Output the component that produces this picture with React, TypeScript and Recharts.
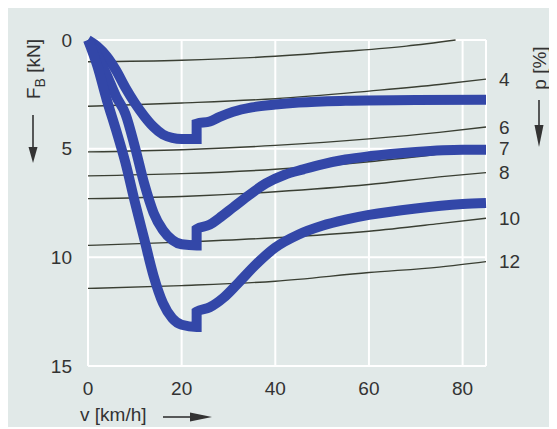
import React from 'react';
import { LineChart, Line, XAxis, YAxis, CartesianGrid, ReferenceLine } from 'recharts';

// Fahrgeschwindigkeit-Achse
const speedTicks = [0, 20, 40, 60, 80];
const forceTicks = [0, 5, 10, 15];

// Steigungslinien p [%] (dünn), Stützstellen v [km/h]
const gradeSpeeds = [0, 20, 40, 60, 75, 85];
const grade4 = [3.05, 2.9, 2.7, 2.35, 2.05, 1.8];
const grade6 = [5.15, 5.05, 4.85, 4.55, 4.25, 4.0];
const grade7 = [6.25, 6.15, 5.95, 5.6, 5.25, 5.0];
const grade8 = [7.3, 7.2, 6.98, 6.65, 6.3, 6.1];
const grade10 = [9.45, 9.3, 9.1, 8.8, 8.45, 8.2];
const grade12 = [11.43, 11.3, 11.1, 10.7, 10.45, 10.2];

// oberste Linie ohne Beschriftung, läuft oben aus dem Diagramm
const topSpeeds = [0, 20, 40, 55, 68, 78.5];
const topGrade = [1.0, 0.93, 0.75, 0.52, 0.28, 0.0];

// Bremskraftkurven (dick), [v, F_B]
const brakeLow: [number, number][] = [
  [0, 0], [2, 0.3], [4, 0.75], [6, 1.4], [8, 2.2], [10, 2.9], [12, 3.5], [14, 4.0],
  [16, 4.35], [18, 4.5], [20, 4.55], [23.2, 4.55], [23.2, 3.85], [26, 3.75], [28, 3.55],
  [31, 3.3], [35, 3.1], [40, 2.97], [45, 2.88], [55, 2.8], [70, 2.76], [85, 2.75],
];
const brakeMid: [number, number][] = [
  [0, 0], [2, 0.7], [4, 1.6], [6, 2.6], [8, 3.4], [10, 4.9], [12, 6.6], [14, 7.95],
  [16, 8.75], [18, 9.2], [20, 9.4], [23.2, 9.45], [23.2, 8.7], [26, 8.5], [28, 8.2],
  [31, 7.7], [34, 7.2], [38, 6.6], [42, 6.2], [46, 5.95], [50, 5.72], [55, 5.5],
  [60, 5.35], [70, 5.15], [80, 5.05], [85, 5.05],
];
const brakeHigh: [number, number][] = [
  [0, 0], [2, 1.2], [4, 2.75], [6, 4.15], [8, 5.65], [10, 7.45], [12, 9.15], [14, 10.85],
  [16, 12.1], [18, 12.8], [20, 13.1], [23.2, 13.2], [23.2, 12.5], [26, 12.3], [29, 11.85],
  [32, 11.2], [36, 10.3], [40, 9.55], [45, 8.95], [50, 8.55], [55, 8.27],
  [60, 8.05], [70, 7.75], [80, 7.55], [85, 7.5],
];

const BG = '#e1e9e8';
const BLUE = '#3347a8';
const THIN = '#3a3f33';
const TEXT = '#333';
const FONT = 19;

const toPoints = (speeds: number[], values: number[]) => speeds.map((v, i) => ({ v, F: values[i] }));
const pairs = (list: [number, number][]) => list.map(([v, F]) => ({ v, F }));

const gradeLines = [
  { p: '4', values: grade4 },
  { p: '6', values: grade6 },
  { p: '7', values: grade7 },
  { p: '8', values: grade8 },
  { p: '10', values: grade10 },
  { p: '12', values: grade12 },
];

// Beschriftung am Linienende
const endLabel = (text: string, last: number) => (props: any) => {
  if (props.index !== last) return null;
  return (
    <text x={props.x + 13} y={props.y} dy="0.35em" fontSize={FONT} fill={TEXT} textAnchor="start">
      {text}
    </text>
  );
};

const LeftTitle = () => (
  <g>
    <text x={32} y={61} transform="rotate(-90 32 61)" textAnchor="middle" fontSize={FONT} fill={TEXT}>
      F<tspan fontSize={14} dy={5}>B</tspan>
      <tspan dy={-5}> [kN]</tspan>
    </text>
    <line x1={25} y1={107} x2={25} y2={141} stroke={TEXT} strokeWidth={1.6} />
    <polygon points="20.5,139 29.5,139 25,155" fill={TEXT} />
  </g>
);

const RightTitle = () => (
  <g>
    <text x={538} y={60} transform="rotate(-90 538 60)" textAnchor="middle" fontSize={FONT} fill={TEXT}>
      p [%]
    </text>
    <line x1={531} y1={92} x2={531} y2={119} stroke={TEXT} strokeWidth={1.6} />
    <polygon points="526.5,117 535.5,117 531,139" fill={TEXT} />
  </g>
);

const BottomTitle = () => (
  <g>
    <text x={72} y={413} textAnchor="start" fontSize={FONT} fill={TEXT}>
      v [km/h]
    </text>
    <line x1={155} y1={409} x2={184} y2={409} stroke={TEXT} strokeWidth={1.6} />
    <polygon points="182,404.5 182,413.5 204,409" fill={TEXT} />
  </g>
);

export default function App() {
  return (
    <div style={{ width: 549, height: 419, background: BG, fontFamily: '"Liberation Sans", Arial, sans-serif' }}>
      <LineChart width={549} height={419} margin={{ top: 32, right: 0, left: 20, bottom: 31 }}>
        <CartesianGrid stroke="#ffffff" strokeWidth={2} />
        <XAxis
          type="number"
          dataKey="v"
          domain={[0, 85]}
          ticks={speedTicks}
          height={30}
          axisLine={false}
          tickLine={false}
          tickSize={0}
          tickMargin={16}
          tick={{ fontSize: FONT, fill: TEXT }}
          label={<BottomTitle />}
        />
        <YAxis
          type="number"
          domain={[0, 15]}
          reversed
          ticks={forceTicks}
          width={60}
          axisLine={false}
          tickLine={false}
          tickSize={0}
          tickMargin={16}
          tick={{ fontSize: FONT, fill: TEXT }}
          label={<LeftTitle />}
        />
        <YAxis
          yAxisId="right"
          orientation="right"
          type="number"
          domain={[0, 15]}
          width={71}
          axisLine={false}
          tickLine={false}
          tick={false}
          label={<RightTitle />}
        />
        <ReferenceLine x={85} stroke="#ffffff" strokeWidth={2} />

        <Line
          data={toPoints(topSpeeds, topGrade)}
          dataKey="F"
          type="monotone"
          stroke={THIN}
          strokeWidth={1.4}
          dot={false}
          isAnimationActive={false}
        />
        {gradeLines.map((g) => (
          <Line
            key={g.p}
            data={toPoints(gradeSpeeds, g.values)}
            dataKey="F"
            type="monotone"
            stroke={THIN}
            strokeWidth={1.4}
            dot={false}
            label={endLabel(g.p, gradeSpeeds.length - 1)}
            isAnimationActive={false}
          />
        ))}

        {[brakeLow, brakeMid, brakeHigh].map((curve, i) => (
          <Line
            key={`brake-${i}`}
            data={pairs(curve)}
            dataKey="F"
            type="monotone"
            stroke={BLUE}
            strokeWidth={10}
            strokeLinejoin="miter"
            dot={false}
            isAnimationActive={false}
          />
        ))}
      </LineChart>
    </div>
  );
}
